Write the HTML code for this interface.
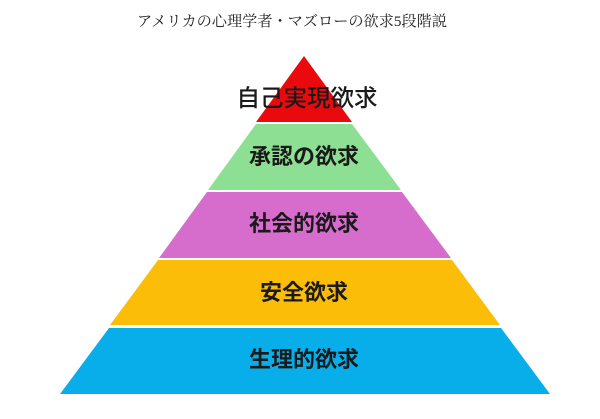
<!DOCTYPE html>
<html><head><meta charset="utf-8"><style>
html,body{margin:0;padding:0;background:#fff;}
svg{display:block;}
text{font-family:"Liberation Sans","Noto Sans CJK JP",sans-serif;font-weight:bold;fill:#1a1a1a;}
</style></head><body>
<svg width="600" height="419" viewBox="0 0 600 419" xmlns="http://www.w3.org/2000/svg">
<text x="292" y="26" text-anchor="middle" textLength="310" lengthAdjust="spacingAndGlyphs" style="font-family:'Liberation Serif','Noto Serif CJK SC',serif;font-weight:normal;font-size:15px;fill:#222">アメリカの心理学者・マズローの欲求5段階説</text>
<polygon points="304,56 352,122 256,122" fill="#ea0a0e"/>
<polygon points="256,124 352,124 401,190 208,190" fill="#8de093"/>
<polygon points="207,192 402,192 451,258 159,258" fill="#d66ccb"/>
<polygon points="158,260 452,260 500,325 110,325" fill="#fbbd07"/>
<polygon points="109,328 501,328 550,394 60,394" fill="#08aeea"/>
<text x="307" y="106" text-anchor="middle" font-size="23.5" style="font-weight:500">自己実現欲求</text>
<text x="304" y="164" text-anchor="middle" font-size="22">承認の欲求</text>
<text x="304" y="231" text-anchor="middle" font-size="22">社会的欲求</text>
<text x="304" y="300" text-anchor="middle" font-size="22">安全欲求</text>
<text x="304" y="367" text-anchor="middle" font-size="22">生理的欲求</text>
</svg>
</body></html>
